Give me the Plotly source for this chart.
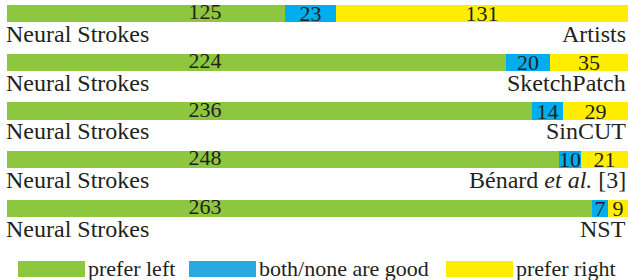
import plotly.graph_objects as go

methods = ["Artists", "SketchPatch", "SinCUT", "Bénard <i>et al.</i> [3]", "NST"]
left_name = "Neural Strokes"
prefer_left = [125, 224, 236, 248, 263]
both_none = [23, 20, 14, 10, 7]
prefer_right = [131, 35, 29, 21, 9]
legend_labels = ["prefer left", "both/none are good", "prefer right"]

GREEN = "#8DC63F"
BLUE = "#00AEEF"
YELLOW = "#FFED00"
TXT = "#231F20"
FONT = "Liberation Serif"
NUM_SIZE = 22
LAB_SIZE = 24

ypos = list(range(len(methods)))
total = [a + b + c for a, b, c in zip(prefer_left, both_none, prefer_right)]

fig = go.Figure()
fig.add_trace(go.Bar(y=ypos, x=prefer_left, orientation="h", marker=dict(color=GREEN, line=dict(width=0)),
                     width=0.35, showlegend=False, hoverinfo="skip"))
fig.add_trace(go.Bar(y=ypos, x=both_none, orientation="h", marker=dict(color=BLUE, line=dict(width=0)),
                     width=0.35, text=[str(v) for v in both_none], textposition="inside", textangle=0,
                     insidetextanchor="middle", textfont=dict(family=FONT, size=NUM_SIZE, color=TXT),
                     showlegend=False, hoverinfo="skip"))
fig.add_trace(go.Bar(y=ypos, x=prefer_right, orientation="h", marker=dict(color=YELLOW, line=dict(width=0)),
                     width=0.35, text=[str(v) for v in prefer_right], textposition="inside", textangle=0,
                     insidetextanchor="middle", textfont=dict(family=FONT, size=NUM_SIZE, color=TXT),
                     showlegend=False, hoverinfo="skip"))
# green labels sit at a fixed horizontal position
fig.add_trace(go.Scatter(y=ypos, x=[89] * len(ypos), mode="text", text=[str(v) for v in prefer_left],
                         textfont=dict(family=FONT, size=NUM_SIZE, color=TXT), showlegend=False, hoverinfo="skip"))

annotations = []
for i, m in enumerate(methods):
    annotations.append(dict(x=0, y=i + 0.42, xref="x", yref="y", text=left_name, showarrow=False,
                            xanchor="left", yanchor="middle", xshift=-3,
                            font=dict(family=FONT, size=LAB_SIZE, color=TXT)))
    annotations.append(dict(x=1, y=i + 0.42, xref="paper", yref="y", text=m, showarrow=False,
                            xanchor="right", yanchor="middle", xshift=0,
                            font=dict(family=FONT, size=LAB_SIZE, color=TXT)))

W, H = 628, 280
shapes = []
leg_boxes = [(18, 85, GREEN), (189, 256, "#29A9E0"), (446, 513, YELLOW)]
for (x0, x1, c), lab in zip(leg_boxes, legend_labels):
    shapes.append(dict(type="rect", xref="paper", yref="paper", x0=x0 / W, x1=x1 / W,
                       y0=1 - 277 / H, y1=1 - 261 / H, fillcolor=c, line=dict(width=0)))
    annotations.append(dict(x=(x1 + 1) / W, y=1 - 268 / H, xref="paper", yref="paper", text=lab,
                            showarrow=False, xanchor="left", yanchor="middle",
                            font=dict(family=FONT, size=22, color=TXT)))

scale = (W - 7) / max(total)
fig.update_layout(
    width=W, height=H, barmode="stack", bargap=0,
    margin=dict(l=0, r=0, t=0, b=0),
    paper_bgcolor="white", plot_bgcolor="white",
    xaxis=dict(range=[-7 / scale, max(total)], visible=False, fixedrange=True),
    yaxis=dict(range=[-0.277 + H / 48.75, -0.277], visible=False, fixedrange=True),
    uniformtext=dict(minsize=NUM_SIZE, mode="show"),
    annotations=annotations, shapes=shapes,
)
fig.write_html("out.html", config=dict(displayModeBar=False),
               post_script="document.body.style.margin='0';document.body.style.overflow='hidden';")
